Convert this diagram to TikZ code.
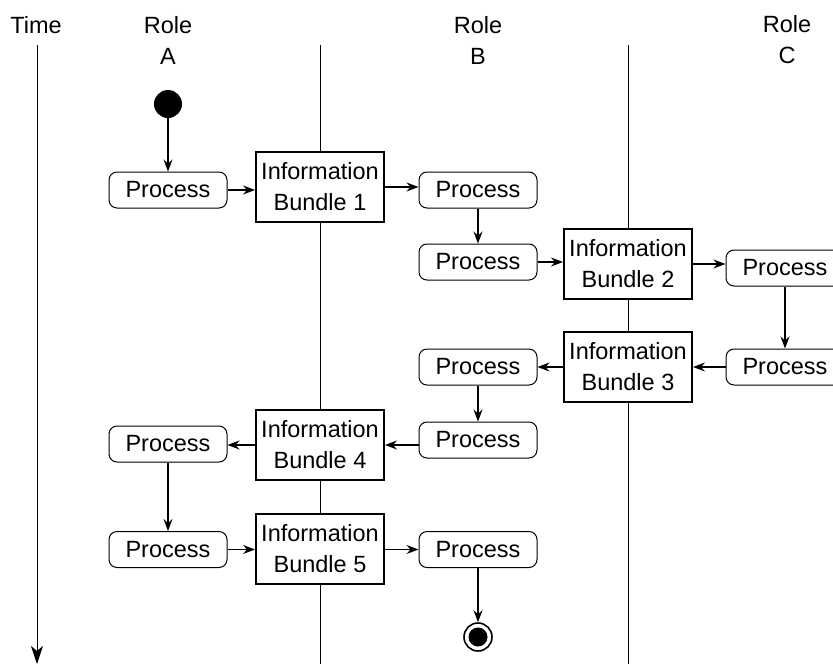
\documentclass[tikz,border=0pt]{standalone}
\usepackage{fontspec}
\setmainfont{Liberation Sans}
\usetikzlibrary{arrows.meta}
\begin{document}
\begin{tikzpicture}[x=1pt,y=-1pt,
  every node/.style={font=\fontsize{23.5}{31}\selectfont},
  proc/.style={draw,rounded corners=8pt,fill=white,minimum width=118pt,minimum height=36pt,inner sep=0pt,line width=1pt},
  info/.style={draw,fill=white,minimum width=128pt,minimum height=70pt,inner sep=0pt,align=center,line width=2pt},
  lbl/.style={align=center,inner sep=0pt},
  flow/.style={line width=1.2pt,-{Stealth[length=12pt,width=9pt,inset=4pt]}},
  lane/.style={line width=1pt}]
\useasboundingbox (0,0) rectangle (833,664);
% labels
\node[lbl] (time) at (36,25) {Time};
\node[lbl] (ra) at (168,40) {Role\\A};
\node[lbl] (rb) at (478,40) {Role\\B};
\node[lbl] (rc) at (787,40) {Role\\C};
% lanes
\coordinate (t0) at (37,45); \coordinate (t1) at (37,664);
\coordinate (l1a) at (320,45); \coordinate (l1b) at (320,664);
\coordinate (l2a) at (628,45); \coordinate (l2b) at (628,664);
\draw[line width=1pt,-{Stealth[length=18pt,width=12pt,inset=5pt]}] (t0) -- (t1);
\draw[lane] (l1a) -- (l1b);
\draw[lane] (l2a) -- (l2b);
% nodes
\node[circle,fill=black,minimum size=28pt,inner sep=0pt] (start) at (168,104) {};
\node[proc] (a1) at (168,190) {Process};
\node[info] (ib1) at (320,187) {Information\\Bundle 1};
\node[proc] (b1) at (478,190) {Process};
\node[proc] (b2) at (478,262) {Process};
\node[info] (ib2) at (628,264) {Information\\Bundle 2};
\node[proc] (c1) at (785,268) {Process};
\node[proc] (c2) at (785,367) {Process};
\node[info] (ib3) at (628,367) {Information\\Bundle 3};
\node[proc] (b3) at (478,367) {Process};
\node[proc] (b4) at (478,440) {Process};
\node[info] (ib4) at (320,445) {Information\\Bundle 4};
\node[proc] (a2) at (168,444) {Process};
\node[proc] (a3) at (168,549.5) {Process};
\node[info] (ib5) at (320,549) {Information\\Bundle 5};
\node[proc] (b5) at (478,549.5) {Process};
\node[circle,draw,line width=1.6pt,minimum size=28pt,inner sep=0pt] (end) at (478,637) {};
\node[circle,fill=black,minimum size=19pt,inner sep=0pt] (endin) at (end) {};
% flows
\draw[flow] (start) -- (a1);
\draw[flow] (a1.east) -- (ib1.west |- a1.east);
\draw[flow] (ib1.east) -- (b1.west |- ib1.east);
\draw[flow] (b1) -- (b2);
\draw[flow] (b2.east) -- (ib2.west |- b2.east);
\draw[flow] (ib2.east) -- (c1.west |- ib2.east);
\draw[flow] (c1) -- (c2);
\draw[flow] (c2.west) -- (ib3.east |- c2.west);
\draw[flow] (ib3.west |- b3.east) -- (b3.east);
\draw[flow] (b3) -- (b4);
\draw[flow] (b4.west |- ib4.east) -- (ib4.east);
\draw[flow] (ib4.west) -- (a2.east |- ib4.west);
\draw[flow] (a2) -- (a3);
\draw[flow] (a3.east) -- (ib5.west |- a3.east);
\draw[flow] (ib5.east |- b5.west) -- (b5.west);
\draw[flow] (b5) -- (end);
\end{tikzpicture}
\end{document}
